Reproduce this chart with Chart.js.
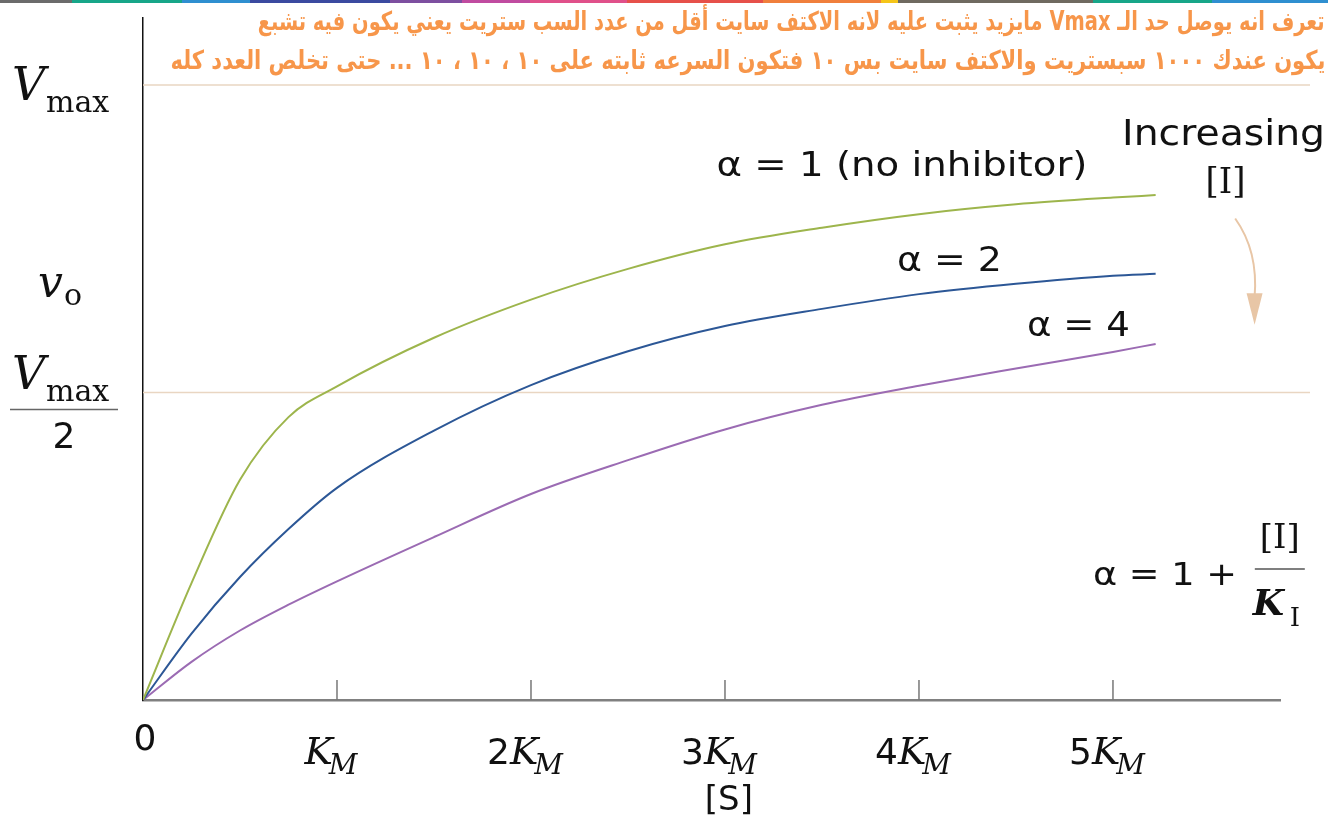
<!DOCTYPE html>
<html>
<head>
<meta charset="utf-8">
<script src="https://cdn.jsdelivr.net/npm/chart.js@4.4.0/dist/chart.umd.min.js"></script>
<style>
  body { margin: 0; background: #fff; }
  #wrap { position: relative; width: 1328px; height: 818px; overflow: hidden; }
  #strip { position: absolute; left: 0; top: 0; width: 1328px; height: 3px;
    background: linear-gradient(to right,
      #6b6b6b 0, #6b6b6b 72px, #17a689 72px, #17a689 182px, #2f8fd0 182px, #2f8fd0 250px,
      #3b4aa0 250px, #3b4aa0 390px, #7d4fa0 390px, #7d4fa0 462px, #c04ba0 462px, #c04ba0 530px,
      #e0508a 530px, #e0508a 627px, #e6504a 627px, #e6504a 763px, #f07f3c 763px, #f07f3c 881px,
      #f5c518 881px, #f5c518 898px, #6f6a60 898px, #6f6a60 1093px, #17a689 1093px, #17a689 1212px,
      #2f8fd0 1212px, #2f8fd0 1328px); }
  .note { position: absolute; right: 3px; direction: rtl; white-space: nowrap;
    color: #f7964a; font: bold 26px "DejaVu Sans", sans-serif; line-height: 30px;
    transform-origin: right center; }
  canvas { position: absolute; left: 0; top: 0; }
</style>
</head>
<body>
<div id="wrap">
  <canvas id="myChart" width="1328" height="818"></canvas>
  <div id="strip"></div>
  <div class="note" style="top:6px" data-w="1067">تعرف انه يوصل حد الـ Vmax  مايزيد يثبت عليه لانه الاكتف سايت أقل من عدد السب ستريت يعني يكون فيه تشبع</div>
  <div class="note" style="top:45px" data-w="1155">يكون عندك ١٠٠٠ سبستريت  والاكتف سايت بس ١٠  فتكون السرعه ثابته على ١٠ ، ١٠ ، ١٠ ... حتى تخلص العدد كله</div>
</div>
<script>
// [S] in units of KM, v0 in units of Vmax
var sValues      = [0, 0.25, 0.5, 0.75, 1, 1.5, 2, 2.5, 3, 3.5, 4, 4.5, 5, 5.22];
var vNoInhibitor = [0, 0.190, 0.358, 0.460, 0.510, 0.589, 0.651, 0.701, 0.741, 0.768, 0.790, 0.806, 0.817, 0.821];
var vAlpha2      = [0, 0.108, 0.200, 0.278, 0.345, 0.438, 0.512, 0.567, 0.608, 0.636, 0.660, 0.677, 0.690, 0.693];
var vAlpha4      = [0, 0.062, 0.113, 0.155, 0.193, 0.265, 0.335, 0.390, 0.440, 0.480, 0.511, 0.539, 0.566, 0.579];

var xTickValues = [1, 2, 3, 4, 5];
var xTickCoefs  = ['', '2', '3', '4', '5'];
var refLines    = [0.5, 1];   // Vmax/2 and Vmax

function pts(ys) {
  return sValues.map(function (s, i) { return { x: s, y: ys[i] }; });
}

var SANS = '"DejaVu Sans", sans-serif';
var SERIF = '"DejaVu Serif", serif';

// squeeze the arabic note lines to the width they take in the figure
document.querySelectorAll('.note').forEach(function (n) {
  var k = Number(n.dataset.w) / n.getBoundingClientRect().width;
  n.style.transform = 'scaleX(' + k + ')';
});

// draw text squeezed/stretched to a given width, centred on cx
function fitText(ctx, s, cx, cy, w, font) {
  ctx.font = font;
  var m = ctx.measureText(s).width;
  ctx.save();
  ctx.translate(cx, cy);
  ctx.scale(w / m, 1);
  ctx.textAlign = 'center';
  ctx.textBaseline = 'middle';
  ctx.fillText(s, 0, 0);
  ctx.restore();
}

// K with subscript, optional coefficient in front, centred on cx
function kLabel(ctx, coef, sub, cx, y) {
  var fCoef = '36px ' + SANS;
  var fK = 'italic 38px ' + SERIF;
  var fSub = 'italic 28px ' + SERIF;
  ctx.font = fCoef; var wc = coef ? ctx.measureText(coef).width : 0;
  ctx.font = fK; var wk = ctx.measureText('K').width;
  ctx.font = fSub; var ws = ctx.measureText(sub).width;
  var x = cx - (wc + wk - 4 + ws) / 2;
  ctx.textAlign = 'left';
  ctx.textBaseline = 'alphabetic';
  if (coef) { ctx.font = fCoef; ctx.fillText(coef, x, y); x += wc; }
  ctx.font = fK; ctx.fillText('K', x, y); x += wk - 4;
  ctx.font = fSub; ctx.fillText(sub, x, y + 10);
}

function vmaxLabel(ctx, x, y) {
  ctx.textAlign = 'left';
  ctx.textBaseline = 'alphabetic';
  ctx.font = 'italic 46px ' + SERIF;
  ctx.fillText('V', x, y);
  ctx.font = '30px ' + SERIF;
  ctx.fillText('max', x + 34, y + 12);
}

var decor = {
  id: 'decor',
  beforeDatasetsDraw: function (chart) {
    var ctx = chart.ctx, xs = chart.scales.x, ys = chart.scales.y, a = chart.chartArea;
    ctx.save();
    ctx.strokeStyle = '#e9d6c2';
    ctx.lineWidth = 1.5;
    refLines.forEach(function (v) {
      var py = ys.getPixelForValue(v);
      ctx.beginPath(); ctx.moveTo(a.left, py); ctx.lineTo(chart.width - 18, py); ctx.stroke();
    });
    // tick marks pointing up from the x axis
    ctx.strokeStyle = '#777';
    ctx.lineWidth = 1.5;
    xTickValues.forEach(function (v) {
      var px = xs.getPixelForValue(v);
      ctx.beginPath(); ctx.moveTo(px, a.bottom); ctx.lineTo(px, a.bottom - 20); ctx.stroke();
    });
    ctx.restore();
  },
  afterDraw: function (chart) {
    var ctx = chart.ctx, xs = chart.scales.x, ys = chart.scales.y, a = chart.chartArea;
    ctx.save();
    ctx.fillStyle = '#111';

    // x tick labels
    ctx.font = '36px ' + SANS;
    ctx.textAlign = 'center';
    ctx.textBaseline = 'alphabetic';
    ctx.fillText('0', xs.getPixelForValue(0) + 2, a.bottom + 50);
    xTickValues.forEach(function (v, i) {
      kLabel(ctx, xTickCoefs[i], 'M', xs.getPixelForValue(v) - 6, a.bottom + 64);
    });
    ctx.font = '34px ' + SANS;
    ctx.textAlign = 'center';
    ctx.fillText('[S]', xs.getPixelForValue(3.02), a.bottom + 110);

    // y labels
    vmaxLabel(ctx, 12, ys.getPixelForValue(1) + 15);
    ctx.font = 'italic 44px ' + SERIF;
    ctx.textAlign = 'left';
    ctx.fillText('v', 38, ys.getPixelForValue(0.675) + 12);
    ctx.font = '30px ' + SERIF;
    ctx.fillText('o', 64, ys.getPixelForValue(0.675) + 20);
    var yh = ys.getPixelForValue(0.5);
    vmaxLabel(ctx, 12, yh - 4);
    ctx.strokeStyle = '#666';
    ctx.lineWidth = 1.5;
    ctx.beginPath(); ctx.moveTo(10, yh + 17); ctx.lineTo(118, yh + 17); ctx.stroke();
    ctx.font = '36px ' + SANS;
    ctx.textAlign = 'center';
    ctx.fillText('2', 64, yh + 55);

    // curve annotations
    function at(sx, vy) { return [xs.getPixelForValue(sx), ys.getPixelForValue(vy)]; }
    var p;
    p = at(3.912, 0.867); fitText(ctx, 'α = 1 (no inhibitor)', p[0], p[1], 371, '34px ' + SANS);
    p = at(4.157, 0.712); fitText(ctx, 'α = 2', p[0], p[1], 105, '34px ' + SANS);
    p = at(4.822, 0.607); fitText(ctx, 'α = 4', p[0], p[1], 103, '34px ' + SANS);
    p = at(5.57, 0.918); fitText(ctx, 'Increasing', p[0], p[1], 203, '36px ' + SANS);
    p = at(5.58, 0.84); fitText(ctx, '[I]', p[0], p[1], 40, '36px ' + SERIF);

    // arrow
    var s0 = at(5.63, 0.783), s1 = at(5.75, 0.73), s2 = at(5.73, 0.655);
    ctx.strokeStyle = '#e8c6a6';
    ctx.fillStyle = '#e8c6a6';
    ctx.lineWidth = 2;
    ctx.beginPath();
    ctx.moveTo(s0[0], s0[1]);
    ctx.quadraticCurveTo(s1[0], s1[1], s2[0], s2[1]);
    ctx.stroke();
    var h = at(5.73, 0.61);
    ctx.beginPath();
    ctx.moveTo(h[0] - 8, s2[1] - 4);
    ctx.lineTo(h[0] + 8, s2[1] - 4);
    ctx.lineTo(h[0], h[1]);
    ctx.closePath();
    ctx.fill();

    // alpha formula
    ctx.fillStyle = '#111';
    p = at(5.268, 0.2); fitText(ctx, 'α = 1 +', p[0], p[1], 144, '32px ' + SANS);
    var fx = xs.getPixelForValue(5.86), fy = ys.getPixelForValue(0.213);
    ctx.strokeStyle = '#555';
    ctx.lineWidth = 1.5;
    ctx.beginPath(); ctx.moveTo(fx - 25, fy); ctx.lineTo(fx + 25, fy); ctx.stroke();
    fitText(ctx, '[I]', fx, fy - 30, 40, '34px ' + SERIF);
    ctx.font = 'bold italic 36px ' + SERIF;
    ctx.textAlign = 'left';
    ctx.textBaseline = 'alphabetic';
    ctx.fillText('K', fx - 27, fy + 46);
    ctx.font = '26px ' + SERIF;
    ctx.fillText('I', fx + 10, fy + 57);
    ctx.restore();
  }
};

var ctx = document.getElementById('myChart').getContext('2d');
var chart = new Chart(ctx, {
  type: 'line',
  data: {
    datasets: [
      { label: 'α = 1', data: pts(vNoInhibitor), borderColor: '#9db54c' },
      { label: 'α = 2', data: pts(vAlpha2), borderColor: '#2c5796' },
      { label: 'α = 4', data: pts(vAlpha4), borderColor: '#9b6bb3' }
    ]
  },
  options: {
    responsive: false,
    animation: false,
    layout: { padding: { left: 143, right: 48, top: 18, bottom: 118 } },
    elements: {
      line: { borderWidth: 2, cubicInterpolationMode: 'monotone', fill: false },
      point: { radius: 0 }
    },
    plugins: { legend: { display: false }, tooltip: { enabled: false } },
    scales: {
      x: {
        type: 'linear', min: 0, max: 5.861,
        grid: { display: false, drawTicks: false },
        ticks: { display: false },
        border: { display: true, color: '#808080', width: 2.5 }
      },
      y: {
        type: 'linear', min: 0, max: 1.109,
        grid: { display: false, drawTicks: false },
        ticks: { display: false },
        border: { display: true, color: '#111', width: 1.5 }
      }
    }
  },
  plugins: [decor]
});
</script>
</body>
</html>
